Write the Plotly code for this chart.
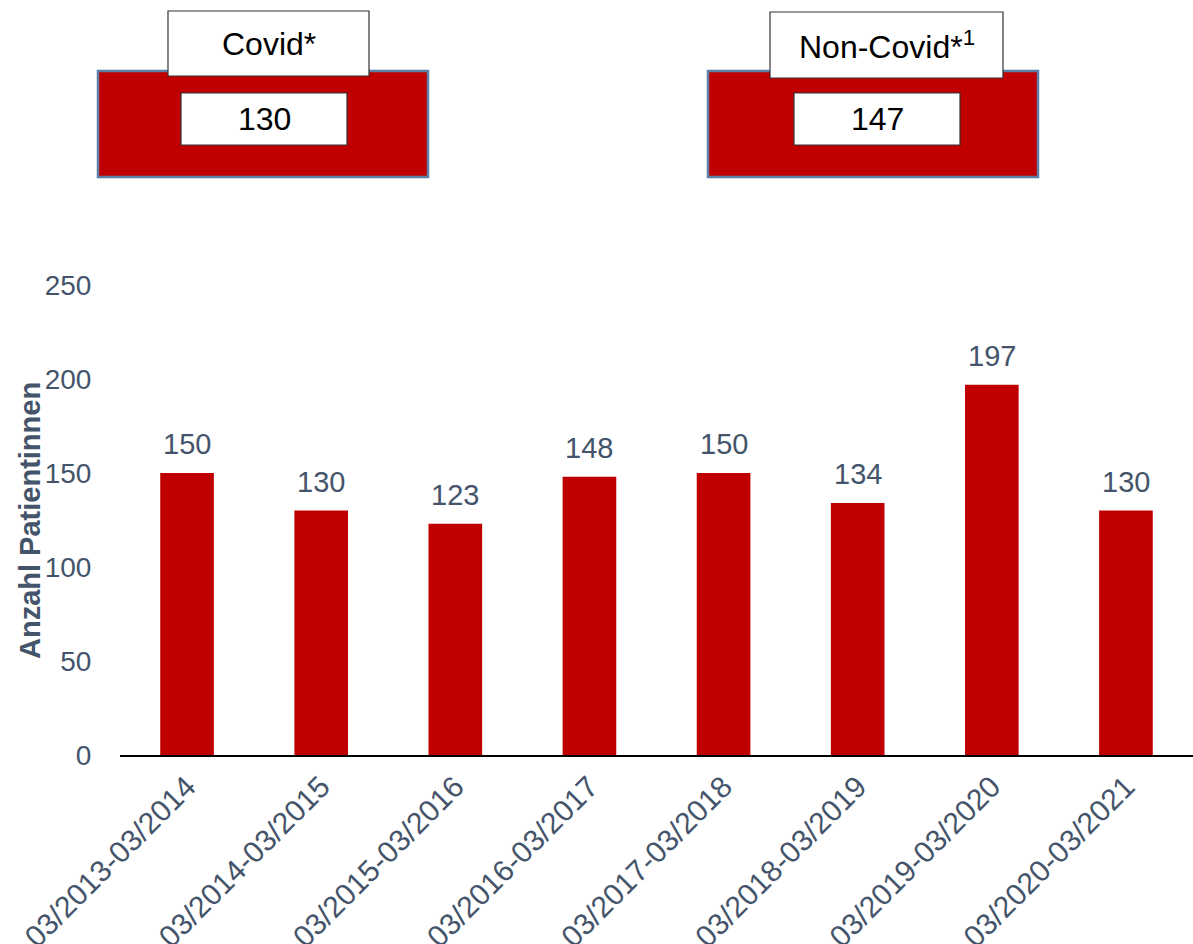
import plotly.graph_objects as go

categories = ["03/2013-03/2014", "03/2014-03/2015", "03/2015-03/2016", "03/2016-03/2017",
              "03/2017-03/2018", "03/2018-03/2019", "03/2019-03/2020", "03/2020-03/2021"]
patients = [150, 130, 123, 148, 150, 134, 197, 130]
box_titles = ["Covid*", "Non-Covid*<sup>1</sup>"]
box_values = [130, 147]

RED = "#C00000"
SLATE = "#44546A"
FONT = "Liberation Sans, Arial, sans-serif"

W, H = 1193, 944
L, R, T, B = 120, 0, 285, 189
PW, PH = W - L - R, H - T - B

def fx(px):
    return (px - L) / PW

def fy(py):
    return (H - B - py) / PH

fig = go.Figure()
fig.add_trace(go.Bar(
    x=categories, y=patients, marker_color=RED, marker_line_width=0,
))

shapes = []
annotations = []
# data labels
for c, v in zip(categories, patients):
    annotations.append(dict(x=c, y=v, xref="x", yref="y", text=str(v), showarrow=False,
                            xanchor="center", yanchor="bottom", yshift=11,
                            font=dict(size=29, color=SLATE, family=FONT)))
# big red boxes
for (x0, x1) in [(98, 428), (708, 1038)]:
    shapes.append(dict(type="rect", xref="paper", yref="paper",
                       x0=fx(x0), x1=fx(x1), y0=fy(177), y1=fy(71),
                       fillcolor=RED, line=dict(color="#5B7FA6", width=2.5)))
# title boxes
title_boxes = [(168, 369, 11, 76), (770, 1003, 12, 78)]
value_boxes = [(181, 347, 93, 145), (794, 960, 93, 145)]
for (x0, x1, y0, y1), t in zip(title_boxes, box_titles):
    shapes.append(dict(type="rect", xref="paper", yref="paper",
                       x0=fx(x0), x1=fx(x1), y0=fy(y1), y1=fy(y0),
                       fillcolor="white", line=dict(color="#333333", width=1.2)))
    annotations.append(dict(xref="paper", yref="paper", x=fx((x0 + x1) / 2), y=fy((y0 + y1) / 2),
                            text=t, showarrow=False, xanchor="center", yanchor="middle",
                            font=dict(size=32, color="black", family=FONT)))
for (x0, x1, y0, y1), v in zip(value_boxes, box_values):
    shapes.append(dict(type="rect", xref="paper", yref="paper",
                       x0=fx(x0), x1=fx(x1), y0=fy(y1), y1=fy(y0),
                       fillcolor="white", line=dict(color="#333333", width=1.2)))
    annotations.append(dict(xref="paper", yref="paper", x=fx((x0 + x1) / 2), y=fy((y0 + y1) / 2),
                            text=str(v), showarrow=False, xanchor="center", yanchor="middle",
                            font=dict(size=32, color="black", family=FONT)))

# y-axis title
annotations.append(dict(xref="paper", yref="paper", x=fx(30), y=fy(521),
                        text="<b>Anzahl Patientinnen</b>", textangle=-90, showarrow=False,
                        xanchor="center", yanchor="middle",
                        font=dict(size=29, color=SLATE, family=FONT)))

fig.update_layout(
    width=W, height=H,
    margin=dict(l=L, r=R, t=T, b=B, autoexpand=False),
    paper_bgcolor="white", plot_bgcolor="white",
    showlegend=False, bargap=0.6,
    shapes=shapes, annotations=annotations,
    font=dict(family=FONT, color=SLATE, size=28),
)
fig.update_xaxes(
    tickangle=-45, showline=True, linecolor="black", linewidth=2,
    ticks="", showgrid=False, automargin=False,
    tickfont=dict(size=30, color=SLATE, family=FONT),
)
fig.update_yaxes(
    range=[0, 250], dtick=50, showgrid=False, showline=False, zeroline=False,
    ticks="outside", ticklen=22, tickcolor="rgba(0,0,0,0)", automargin=False,
    tickfont=dict(size=28, color=SLATE, family=FONT),
)

fig.write_html("out.html")
